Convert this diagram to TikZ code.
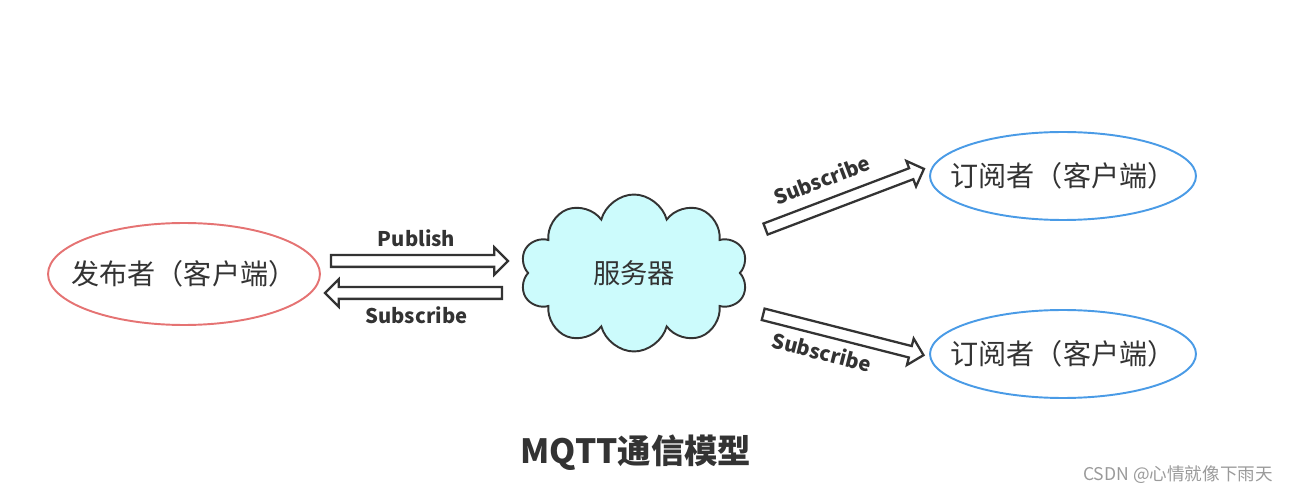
\documentclass[tikz,border=0pt]{standalone}
\usepackage{fontspec}
\setmainfont{Noto Sans CJK SC}
\usetikzlibrary{shapes.geometric,shapes.symbols,shapes.arrows,positioning}

\definecolor{txtgray}{HTML}{333333}
\definecolor{pubred}{HTML}{E57373}
\definecolor{subblue}{HTML}{4A9BE6}
\definecolor{cloudcyan}{HTML}{CCFBFC}
\definecolor{markgray}{HTML}{9A9A9A}

\begin{document}
\begin{tikzpicture}[x=0.02cm,y=-0.02cm,
    client/.style={ellipse, draw, line width=1.1pt, inner sep=-0.7cm,
                   minimum width=5.44cm, minimum height=2.04cm,
                   text=txtgray, font=\fontsize{16}{19}\selectfont},
    hollow/.style={single arrow, draw=txtgray, line width=1.3pt, fill=white,
                   inner xsep=0pt, inner ysep=0.095cm,
                   single arrow head extend=0.155cm, single arrow tip angle=90,
                   sloped, allow upside down},
    msg/.style={text=txtgray, inner sep=0pt, text height=7.5pt, text depth=2pt,
                font=\bfseries\fontsize{11.5}{13}\selectfont}]
  \useasboundingbox (0,0) rectangle (1299,493);

  % clients and server
  \node[client, draw=pubred] (pub) at (184,274) {发布者（客户端）};
  \node[cloud, cloud puffs=10, aspect=1.45, draw=txtgray, line width=1.1pt,
        fill=cloudcyan, inner sep=0pt, minimum width=4.56cm, minimum height=3.14cm,
        text=txtgray, font=\fontsize{15.5}{19}\selectfont] (srv) at (634,273) {服务器};
  \node[client, draw=subblue, minimum width=5.32cm, minimum height=1.76cm] (sub1) at (1063,176) {订阅者（客户端）};
  \node[client, draw=subblue, minimum width=5.32cm, minimum height=1.76cm] (sub2) at (1063,354) {订阅者（客户端）};

  % arrow ends
  \coordinate (pubA) at (328,261);
  \coordinate (srvA) at (505,261);
  \coordinate (srvB) at (505,293);
  \coordinate (pubB) at (328,293);
  \coordinate (srvC) at (763,230);
  \coordinate (subC) at (921,170);
  \coordinate (srvD) at (758,313);
  \coordinate (subD) at (923,355);

  \path (pubA) -- node[hollow, minimum height=3.54cm] (a1) {}
                  node[msg, above=6pt] (l1) {Publish} (srvA);
  \path (srvB) -- node[hollow, minimum height=3.54cm] (a2) {}
                  node[msg, below=9.5pt] (l2) {Subscribe} (pubB);
  \path (srvC) -- node[hollow, minimum height=3.39cm] (a3) {}
                  node[msg, sloped, above=8pt, pos=0.43] (l3) {Subscribe} (subC);
  \path (srvD) -- node[hollow, minimum height=3.31cm] (a4) {}
                  node[msg, sloped, below=9.5pt, pos=0.42] (l4) {Subscribe} (subD);

  % captions
  \node[text=txtgray, font=\bfseries\fontsize{19}{22}\selectfont] (title) at (636,453) {MQTT通信模型};
  \node[text=markgray, font=\fontsize{10}{12}\selectfont] (mark) at (1178,475) {CSDN @心情就像下雨天};
\end{tikzpicture}
\end{document}
